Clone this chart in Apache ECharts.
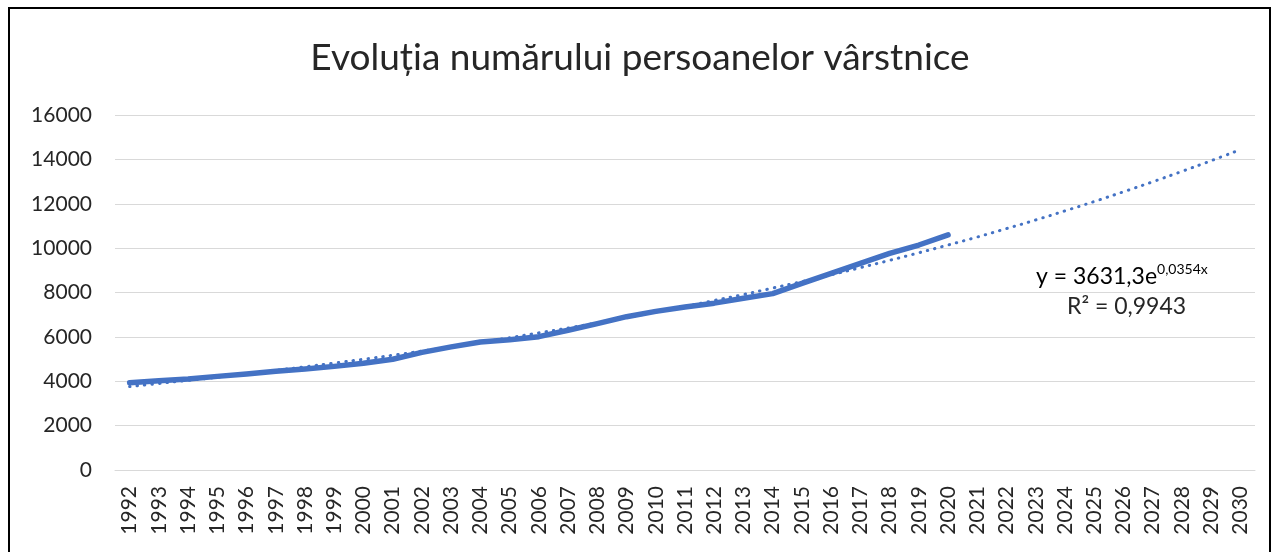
<!DOCTYPE html>
<html>
<head>
<meta charset="utf-8">
<script src="https://cdn.jsdelivr.net/npm/echarts@6/dist/echarts.min.js"></script>
<style>
  html, body { margin: 0; padding: 0; background: #fff; }
  #m1 { width: 1280px; height: 552px; }
</style>
</head>
<body>
<div id="m1"></div>
<script>
// ani 1992 - 2030
var years = [];
for (var y = 1992; y <= 2030; y++) years.push(String(y));

// numarul persoanelor varstnice (1992 - 2020)
var persoane = [3930, 4020, 4100, 4220, 4330, 4450, 4550, 4670, 4810, 4990,
    5300, 5550, 5770, 5870, 6010, 6300, 6600, 6910, 7150, 7350,
    7520, 7740, 7950, 8410, 8860, 9310, 9760, 10140, 10600];

// linia de tendinta exponentiala (punctata), 1992 - 2030
var tendinta = [3760, 3900, 4040, 4180, 4330, 4490, 4650, 4820, 4990, 5170,
    5360, 5550, 5750, 5960, 6180, 6400, 6630, 6870, 7120, 7370,
    7640, 7910, 8200, 8490, 8800, 9120, 9450, 9790, 10140, 10500,
    10880, 11270, 11680, 12100, 12540, 12990, 13460, 13940, 14440];

var yTicks = [0, 2000, 4000, 6000, 8000, 10000, 12000, 14000, 16000];

var myChart = echarts.init(document.getElementById('m1'));
var option = {
    backgroundColor: '#fff',
    animation: false,
    title: {
        text: 'Evoluția numărului persoanelor vârstnice',
        left: 'center',
        top: 35,
        textStyle: {
            fontFamily: 'Lato',
            fontSize: 37,
            fontWeight: 'normal',
            color: '#262626'
        }
    },
    grid: {
        left: 115,
        right: 25,
        top: 115,
        bottom: 82
    },
    xAxis: {
        type: 'category',
        data: years,
        boundaryGap: true,
        axisLine: { lineStyle: { color: '#d9d9d9', width: 1 } },
        axisTick: { show: false },
        axisLabel: {
            rotate: 90,
            interval: 0,
            margin: 16,
            fontFamily: 'Lato',
            fontSize: 21,
            color: '#262626'
        }
    },
    yAxis: {
        type: 'value',
        min: yTicks[0],
        max: yTicks[yTicks.length - 1],
        interval: 2000,
        axisLine: { show: false },
        axisTick: { show: false },
        splitLine: { lineStyle: { color: '#d9d9d9', width: 1 } },
        axisLabel: {
            margin: 23,
            fontFamily: 'Lato',
            fontSize: 21,
            color: '#262626',
            formatter: function (v) { return String(v); }
        }
    },
    series: [
        {
            name: 'tendinta',
            type: 'line',
            data: tendinta,
            symbol: 'none',
            smooth: true,
            lineStyle: { color: '#4472C4', width: 3, type: [0.5, 7], cap: 'round' },
            z: 2
        },
        {
            name: 'persoane',
            type: 'line',
            data: persoane,
            symbol: 'none',
            lineStyle: { color: '#4472C4', width: 5.5, cap: 'round', join: 'round' },
            z: 3
        }
    ],
    graphic: [
        {
            type: 'rect',
            shape: { x: 9, y: 8, width: 1261, height: 560 },
            style: { fill: 'none', stroke: '#000', lineWidth: 2 },
            silent: true
        },
        {
            type: 'text',
            left: 1036,
            top: 262,
            style: {
                text: '{a|y = 3631,3e}{s|0,0354x}',
                rich: {
                    a: { fontFamily: 'Lato', fontSize: 23, color: '#262626', verticalAlign: 'bottom' },
                    s: { fontFamily: 'Lato', fontSize: 14, color: '#262626', padding: [0, 0, 12, 0] }
                }
            }
        },
        {
            type: 'text',
            left: 1067,
            top: 295,
            style: {
                text: 'R² = 0,9943',
                fontFamily: 'Lato',
                fontSize: 23,
                fill: '#262626'
            }
        }
    ]
};
myChart.setOption(option);
</script>
</body>
</html>
